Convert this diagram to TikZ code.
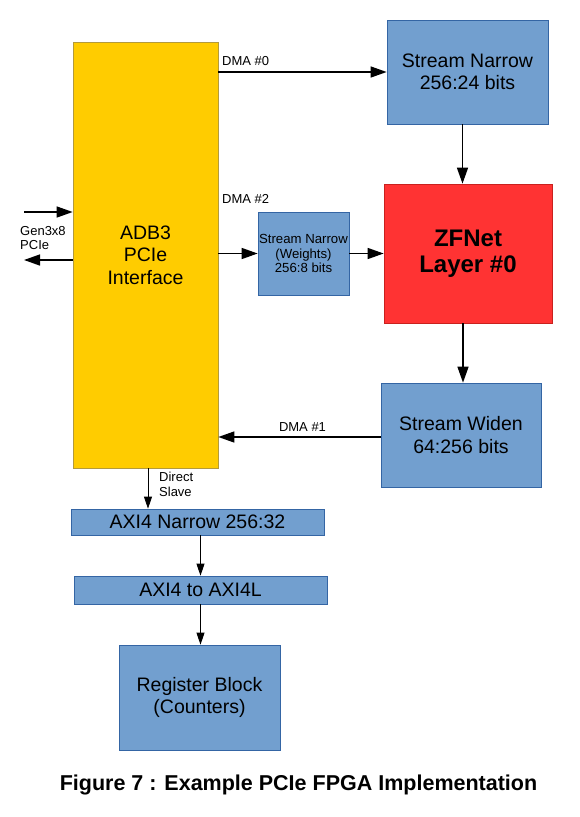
\documentclass[tikz,border=0pt]{standalone}
\usepackage{fontspec}
\setmainfont{Liberation Sans}
\usetikzlibrary{arrows.meta}

\definecolor{blkblue}{HTML}{729FCF}
\definecolor{blkedge}{HTML}{3465A4}
\definecolor{pciyellow}{HTML}{FFCC00}
\definecolor{pciedge}{HTML}{B39A3C}
\definecolor{netred}{HTML}{FF3333}
\definecolor{netedge}{HTML}{C9211E}

\begin{document}
\begin{tikzpicture}[x=1pt,y=-1pt,
    blk/.style={draw=blkedge,fill=blkblue,line width=0.7pt,inner sep=0pt,align=center,
        font=\fontsize{19.5}{22.5}\selectfont},
    arr/.style={-{Triangle[length=16pt,width=11pt]},line width=1.4pt},
    thinarr/.style={-{Triangle[length=12pt,width=8pt]},line width=0.8pt},
    lbl/.style={inner sep=0pt,font=\fontsize{13}{15}\selectfont}]
            \useasboundingbox (0,0) rectangle (579,817);

            \node[blk,draw=pciedge,fill=pciyellow,minimum width=145pt,minimum height=426pt] (adb) at (145.5,255) {ADB3\\PCIe\\Interface};
            \node[blk,minimum width=161pt,minimum height=104pt] (narrow) at (467.5,72) {Stream Narrow\\256:24 bits};
            \node[blk,draw=netedge,fill=netred,minimum width=168pt,minimum height=139pt,
                font=\fontsize{24}{25.5}\selectfont\bfseries] (zfnet) at (468,253.5) {ZFNet\\Layer \#0};
            \node[blk,minimum width=91pt,minimum height=83pt,
                font=\fontsize{13.2}{14.5}\selectfont] (weights) at (303.5,253.5) {Stream Narrow\\(Weights)\\256:8 bits};
            \node[blk,minimum width=160pt,minimum height=104pt] (widen) at (461,435) {Stream Widen\\64:256 bits};
            \node[blk,minimum width=253pt,minimum height=26pt] (axinarrow) at (197.5,522) {AXI4 Narrow 256:32};
            \node[blk,minimum width=253pt,minimum height=28pt] (axilite) at (200.5,590) {AXI4 to AXI4L};
            \node[blk,minimum width=161pt,minimum height=105pt] (regblock) at (199.5,697.5) {Register Block\\(Counters)};

            \draw[arr] (narrow.west -| adb.east) -- (narrow.west);
            \node[lbl,anchor=west] (dma0) at (222,61) {DMA \#0};
            \draw[arr] (weights.west -| adb.east) -- (weights.west);
            \node[lbl,anchor=west] (dma2) at (222,199) {DMA \#2};
            \draw[arr] (weights.east) -- (zfnet.west |- weights.east);
            \draw[arr] ([xshift=-5pt]narrow.south) -- ([xshift=-5pt]narrow.south |- zfnet.north);
            \draw[arr] ([xshift=-5pt]zfnet.south) -- ([xshift=-5pt]zfnet.south |- widen.north);
            \draw[arr] ([yshift=-2pt]widen.west) -- ([yshift=-2pt]widen.west -| adb.east);
            \node[lbl] (dma1) at (302.5,427) {DMA \#1};

            \coordinate (pcin) at (24,212);
            \coordinate (pcout) at (24,260);
            \draw[arr] (pcin) -- (pcin -| adb.west);
            \draw[arr] (pcout -| adb.west) -- (pcout);
            \node[lbl,anchor=west,align=left,font=\fontsize{13}{14}\selectfont] (gen) at (20,238.5) {Gen3x8\\PCIe};

            \draw[thinarr] ([xshift=2.5pt]adb.south) -- ([xshift=2.5pt]adb.south |- axinarrow.north);
            \node[lbl,anchor=west,align=left] (dslave) at (159,484.5) {Direct\\Slave};
            \draw[thinarr] (axilite.north |- axinarrow.south) -- (axilite.north);
            \draw[thinarr] (axilite.south) -- (axilite.south |- regblock.north);

            \node[inner sep=0pt,font=\fontsize{21.5}{24}\selectfont\bfseries] (caption) at (298.5,785) {Figure 7 : Example PCIe FPGA Implementation};
        \end{tikzpicture}
\end{document}
